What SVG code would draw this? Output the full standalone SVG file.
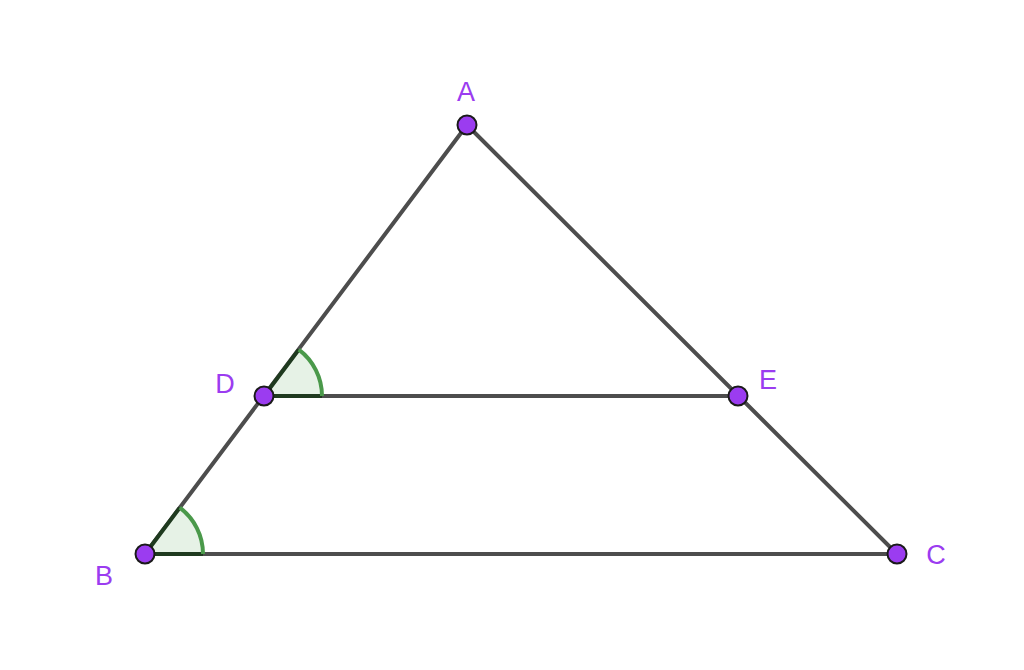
<svg xmlns="http://www.w3.org/2000/svg" width="1024" height="670" viewBox="0 0 1024 670">
<style>
.seg{stroke:#4d4d4d;stroke-width:4;stroke-linecap:round;fill:none}
.pt{fill:#9b3cf0;stroke:#1a1a1a;stroke-width:2}
.lbl{font-family:"Liberation Sans",Arial,sans-serif;font-size:27px;fill:#9b3cf0;text-anchor:middle;dominant-baseline:central}
.sect{fill:#dcecdc;fill-opacity:0.7;stroke:none}
.arc{fill:none;stroke:#4a994a;stroke-width:4}
.side{fill:none;stroke:#1f3a1f;stroke-width:4}
</style>
<rect width="1024" height="670" fill="#ffffff"/>
<g id="connectors">
<line class="seg" x1="467" y1="125" x2="145" y2="554"/>
<line class="seg" x1="467" y1="125" x2="897" y2="554"/>
<line class="seg" x1="145" y1="554" x2="897" y2="554"/>
<line class="seg" x1="264" y1="396" x2="738" y2="396"/>
</g>
<g id="angles">
<g id="angle-D">
<path class="sect" d="M264,396 L298.8,349.6 A58,58 0 0 1 322,396 Z"/>
<path class="side" d="M298.8,349.6 L264,396 L322,396"/>
<path class="arc" d="M298.8,349.6 A58,58 0 0 1 322,396"/>
</g>
<g id="angle-B">
<path class="sect" d="M145,554 L179.8,507.6 A58,58 0 0 1 203,554 Z"/>
<path class="side" d="M179.8,507.6 L145,554 L203,554"/>
<path class="arc" d="M179.8,507.6 A58,58 0 0 1 203,554"/>
</g>
</g>
<g id="A"><circle class="pt" cx="467" cy="125" r="9.5"/><text class="lbl" x="466" y="92">A</text></g>
<g id="B"><circle class="pt" cx="145" cy="554" r="9.5"/><text class="lbl" x="104" y="576">B</text></g>
<g id="C"><circle class="pt" cx="897" cy="554" r="9.5"/><text class="lbl" x="936" y="555">C</text></g>
<g id="D"><circle class="pt" cx="264" cy="396" r="9.5"/><text class="lbl" x="225" y="384">D</text></g>
<g id="E"><circle class="pt" cx="738" cy="396" r="9.5"/><text class="lbl" x="768" y="380">E</text></g>
</svg>
